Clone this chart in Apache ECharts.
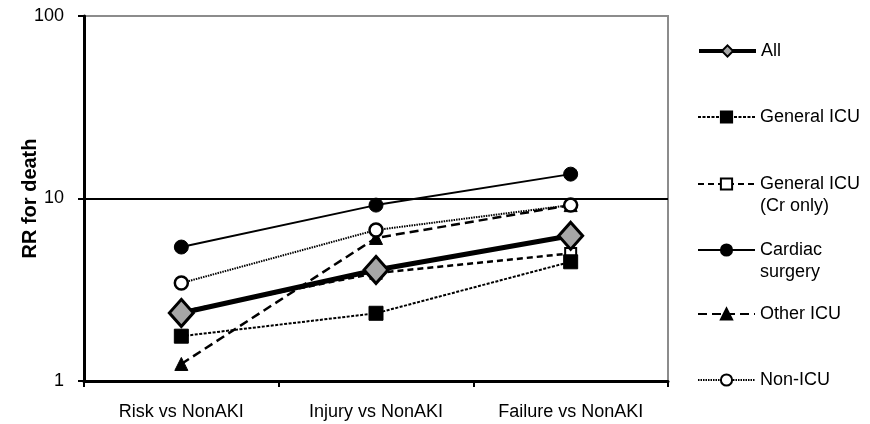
<!DOCTYPE html>
<html><head><meta charset="utf-8">
<script src="https://cdn.jsdelivr.net/npm/echarts@6/dist/echarts.min.js"></script>
<style>html,body{margin:0;padding:0;background:#fff}#c{width:870px;height:424px}</style>
</head><body><div id="c"></div>
<script>
const categories = ['Risk vs NonAKI', 'Injury vs NonAKI', 'Failure vs NonAKI'];
const yTicks = [1, 10, 100];
const allVals = [2.36, 4.06, 6.25];
const generalIcu = [1.76, 2.35, 4.5];
const generalIcuCr = [2.4, 3.9, 5.0];
const cardiac = [5.42, 9.2, 13.6];
const otherIcu = [1.24, 6.08, 9.2];
const nonIcu = [3.44, 6.72, 9.2];

const names = ['All', 'General ICU', 'General ICU (Cr only)', 'Cardiac surgery', 'Other ICU', 'Non-ICU'];
const legendLabels = {
  'All': ['All'],
  'General ICU': ['General ICU'],
  'General ICU (Cr only)': ['General ICU', '(Cr only)'],
  'Cardiac surgery': ['Cardiac', 'surgery'],
  'Other ICU': ['Other ICU'],
  'Non-ICU': ['Non-ICU']
};
const legendTops = [51, 117, 184, 250, 314, 380];
const LH = 22;

const font = 'Liberation Sans, Arial, sans-serif';
const chart = echarts.init(document.getElementById('c'), null, {renderer: 'canvas'});

function mk(name, data, line, sym, size, fill, bw, z) {
  return {
    name, type: 'line', data, z,
    symbol: sym, symbolSize: size,
    lineStyle: Object.assign({color: '#000'}, line),
    itemStyle: {color: fill, borderColor: '#000', borderWidth: bw},
    emphasis: {disabled: true}, animation: false
  };
}

const series = [
  mk('All', allVals, {width: 5, type: 'solid'}, 'diamond', [24, 27], '#a6a6a6', 3, 3),
  mk('General ICU', generalIcu, {width: 2, type: [3, 1.5]}, 'rect', 14, '#000', 1, 4),
  mk('General ICU (Cr only)', generalIcuCr, {width: 2.5, type: [6, 4]}, 'rect', 11, '#fff', 2, 2),
  mk('Cardiac surgery', cardiac, {width: 2, type: 'solid'}, 'circle', 14, '#000', 1, 4),
  mk('Other ICU', otherIcu, {width: 2.5, type: [9, 5]}, 'triangle', 13, '#000', 1, 4),
  mk('Non-ICU', nonIcu, {width: 2, type: [1.5, 1]}, 'circle', 13, '#fff', 2.5, 4)
];
series[0].markLine = {
  silent: true, symbol: 'none', label: {show: false}, animation: false,
  lineStyle: {color: '#000', width: 2, type: 'solid'},
  data: [{yAxis: yTicks[1]}]
};

const legends = names.map((n, i) => {
  const lines = legendLabels[n];
  const multi = lines.length > 1;
  const obj = {
    data: [n], orient: 'vertical', left: 697, padding: 0,
    top: legendTops[i] - (multi ? LH * 1.5 : LH / 2),
    itemWidth: 57, itemHeight: 14, itemGap: 0,
    selectedMode: false,
    formatter: () => (multi ? ' \n' : '') + lines.join('\n'),
    textStyle: {fontFamily: font, fontSize: 18, color: '#000', lineHeight: LH}
  };
  if (i === 0) obj.lineStyle = {width: 4};
  return obj;
});

chart.setOption({
  animation: false,
  backgroundColor: '#fff',
  grid: {left: 84, right: 202, top: 16, bottom: 43, show: true, borderColor: '#8c8c8c', borderWidth: 2},
  legend: legends,
  xAxis: {
    type: 'category', data: categories, boundaryGap: true,
    axisLine: {lineStyle: {color: '#000', width: 3}},
    axisTick: {show: true, interval: 0, length: 6, lineStyle: {color: '#000', width: 2}},
    axisLabel: {fontFamily: font, fontSize: 18, color: '#000', margin: 22, interval: 0},
    splitLine: {show: false}
  },
  yAxis: {
    type: 'log', logBase: 10, min: yTicks[0], max: yTicks[2],
    name: 'RR for death', nameLocation: 'middle', nameGap: 44, nameRotate: 90,
    nameMoveOverlap: false,
    nameTextStyle: {fontFamily: font, fontSize: 20, fontWeight: 'bold', color: '#000'},
    axisLine: {show: true, lineStyle: {color: '#000', width: 3}},
    axisTick: {show: true, inside: false, length: 6, lineStyle: {color: '#000', width: 2}},
    minorTick: {show: false},
    axisLabel: {fontFamily: font, fontSize: 18, color: '#000', margin: 20},
    splitLine: {show: false}
  },
  series
});
</script></body></html>
